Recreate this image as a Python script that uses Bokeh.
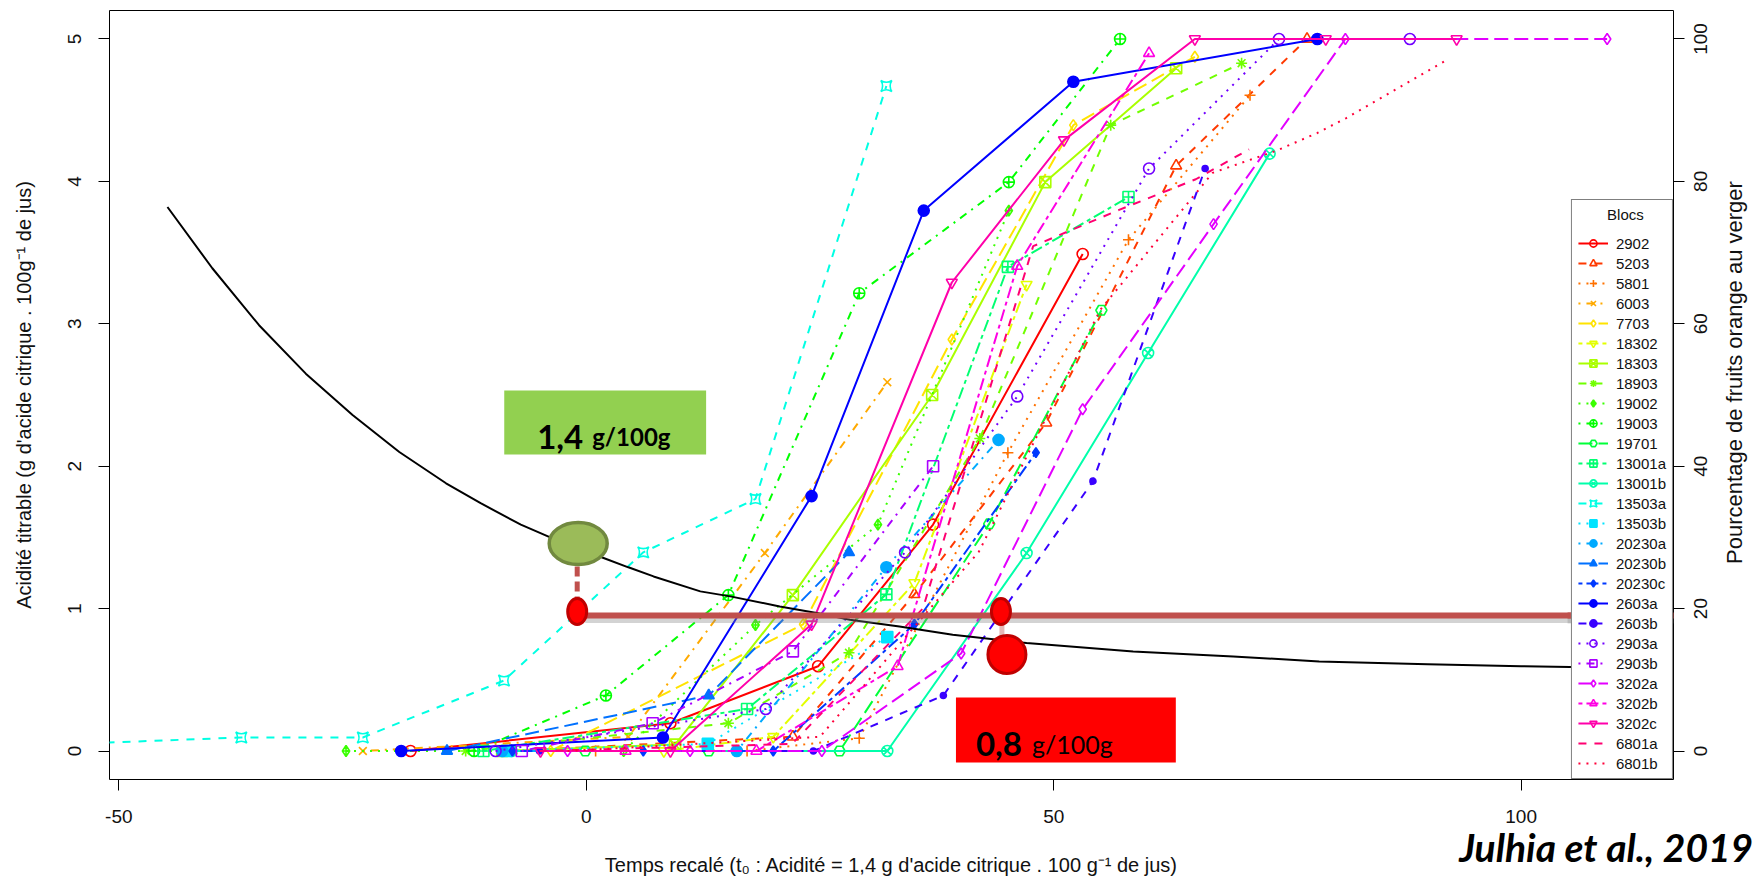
import math
from bokeh.plotting import figure
from bokeh.models import (Range1d, LinearAxis, FixedTicker, Legend, LegendItem,
                          Label, BoxAnnotation)
from bokeh.embed import file_html
from bokeh.resources import INLINE

# ------------------------------------------------------------------ data
blocs = ["2902", "5203", "5801", "6003", "7703", "18302", "18303", "18903",
         "19002", "19003", "19701", "13001a", "13001b", "13503a", "13503b",
         "20230a", "20230b", "20230c", "2603a", "2603b", "2903a", "2903b",
         "3202a", "3202b", "3202c", "6801a", "6801b"]

# recalibrated time (days) and % orange fruits, per block
x_2902 = [-18.8, 9.0, 24.8, 37.1, 53.1]
y_2902 = [0, 3.9, 11.9, 31.8, 69.8]
x_5203 = [-8.0, 22.1, 35.1, 49.2, 63.1, 77.1]
y_5203 = [0, 2.0, 22.0, 46.1, 82.2, 100]
x_5801 = [1.0, 17.2, 29.2, 45.1, 58.0, 71.0]
y_5801 = [0, 0, 1.8, 41.9, 71.8, 92.1]
x_6003 = [-23.9, 4.5, 19.1, 32.2]
y_6003 = [0, 2.0, 27.8, 51.8]
x_7703 = [-3.8, 23.2, 39.1, 52.1, 65.1]
y_7703 = [0, 17.8, 57.8, 87.9, 97.5]
x_18302 = [8.3, 20.0, 35.1, 47.1]
y_18302 = [0, 2.0, 23.6, 65.5]
x_18303 = [-9.0, 9.5, 22.1, 37.0, 49.1, 63.1]
y_18303 = [0, 0.9, 21.9, 50.0, 79.9, 95.9]
x_18903 = [-12.9, 15.2, 28.1, 42.1, 56.1, 70.1]
y_18903 = [0, 3.9, 13.8, 43.9, 87.9, 96.6]
x_19002 = [-25.7, 4.0, 18.1, 31.2, 45.2]
y_19002 = [0, 0, 17.7, 31.8, 75.9]
x_19003 = [-12.0, 2.1, 15.2, 29.2, 45.2, 57.1]
y_19003 = [0, 7.8, 21.9, 64.3, 79.9, 100]
x_19701 = [-0.1, 13.1, 27.1, 43.1, 55.1]
y_19701 = [0, 0, 0, 31.9, 61.9]
x_13001a = [-11.0, 17.2, 32.1, 45.1, 58.0]
y_13001a = [0, 5.9, 22.0, 68.0, 77.8]
x_13001b = [-8.0, 32.2, 47.1, 60.1, 73.1]
y_13001b = [0, 0, 27.8, 55.9, 83.9]
x_13503a = [-65.0, -36.9, -23.9, -8.8, 6.1, 18.1, 32.1]
y_13503a = [0.5, 1.9, 1.9, 9.9, 27.9, 35.4, 93.4]
x_13503b = [-8.5, 13.0, 32.2]
y_13503b = [0, 1.0, 16.0]
x_20230a = [-9.0, 16.1, 32.1, 44.1]
y_20230a = [0, 0, 25.8, 43.7]
x_20230b = [-14.9, 13.1, 28.1]
y_20230b = [0, 7.8, 27.9]
x_20230c = [-7.9, 6.1, 20.0, 35.1, 48.1]
y_20230c = [0, 0, 0, 17.8, 41.9]
x_2603a = [-19.8, 8.2, 24.1, 36.1, 52.1, 78.2]
y_2603a = [0, 1.9, 35.8, 75.9, 94.0, 100]
x_2603b = [-5.0, 24.3, 38.2, 54.2, 66.2]
y_2603b = [0, 0, 7.8, 37.9, 81.8]
x_2903a = [-9.7, 19.2, 34.1, 46.1, 60.2, 74.1, 88.1]
y_2903a = [0, 5.9, 27.9, 49.8, 81.8, 100, 100]
x_2903b = [-6.9, 7.1, 22.1, 37.1]
y_2903b = [0, 3.9, 14.0, 40.0]
x_3202a = [-2.0, 11.1, 25.2, 40.1, 53.1, 67.1, 81.2, 109.2]
y_3202a = [0, 0, 0, 13.7, 48.0, 74.0, 100, 100]
x_3202b = [4.2, 18.2, 33.3, 46.1, 60.2]
y_3202b = [0, 0, 11.9, 68.1, 98.0]
x_3202c = [-4.9, 9.0, 24.1, 39.1, 51.1, 65.1, 79.1, 93.1]
y_3202c = [0, 0, 17.8, 65.8, 85.8, 100, 100, 100]
x_6801a = [-5.0, 22.0, 36.0, 47.8, 57.0, 65.2, 70.9]
y_6801a = [0, 1.0, 20.0, 70.9, 76.0, 80.3, 84.5]
x_6801b = [-2.0, 25.0, 42.0, 55.0, 67.0, 73.8, 78.2, 81.3, 92.1]
y_6801b = [0, 2.0, 28.0, 62.0, 81.2, 84.3, 86.8, 88.9, 97.1]

# titratable acidity curve (g citric acid / 100 g juice)
acid_t = [-44.8, -40, -35, -30, -25, -20, -15, -11.3, -7, -3.85, 0, 1.85, 4.5,
          7.2, 12.2, 15.4, 20.7, 24.8, 28.2, 33.5, 39.2, 47.1, 58.5, 69.2,
          78.4, 90, 100, 110.1]
acid_v = [3.82, 3.39, 2.99, 2.65, 2.36, 2.10, 1.88, 1.74, 1.59, 1.50, 1.40,
          1.355, 1.29, 1.226, 1.121, 1.086, 1.015, 0.968, 0.922, 0.875, 0.816,
          0.758, 0.699, 0.664, 0.629, 0.61, 0.595, 0.585]

x_ticks = [-50, 0, 50, 100]
acid_ticks = [0, 1, 2, 3, 4, 5]
pct_ticks = [0, 20, 40, 60, 80, 100]

label_t0 = "1,4"
label_thr = "0,8"
label_unit = "g/100g"
x_title = "Temps recalé (t\u2080 : Acidité = 1,4 g d'acide citrique . 100 g\u207b\u00b9 de jus)"
y_title = "Acidité titrable (g d'acide citrique . 100g\u207b\u00b9 de jus)"
y2_title = "Pourcentage de fruits orange au verger"
citation = "Julhia et al., 2019"

xs_all = [x_2902, x_5203, x_5801, x_6003, x_7703, x_18302, x_18303, x_18903,
          x_19002, x_19003, x_19701, x_13001a, x_13001b, x_13503a, x_13503b,
          x_20230a, x_20230b, x_20230c, x_2603a, x_2603b, x_2903a, x_2903b,
          x_3202a, x_3202b, x_3202c, x_6801a, x_6801b]
ys_all = [y_2902, y_5203, y_5801, y_6003, y_7703, y_18302, y_18303, y_18903,
          y_19002, y_19003, y_19701, y_13001a, y_13001b, y_13503a, y_13503b,
          y_20230a, y_20230b, y_20230c, y_2603a, y_2603b, y_2903a, y_2903b,
          y_3202a, y_3202b, y_3202c, y_6801a, y_6801b]

# ------------------------------------------------------------------ styles
colors = ["#FF0000", "#FF3900", "#FF7100", "#FFAA00", "#FFE300", "#E3FF00",
          "#AAFF00", "#71FF00", "#39FF00", "#00FF00", "#00FF39", "#00FF71",
          "#00FFAA", "#00FFE3", "#00E3FF", "#00AAFF", "#0071FF", "#0039FF",
          "#0000FF", "#3900FF", "#7100FF", "#AA00FF", "#E300FF", "#FF00E3",
          "#FF00AA", "#FF0071", "#FF0039"]
dashes = ["solid", "8 8", "2 6", "2 6 8 6", "14 6", "4 4 12 4"]
markers = ["circle", "triangle", "cross", "x", "diamond", "inverted_triangle",
           "square_x", "asterisk", "diamond_cross", "circle_cross", "hex",
           "square_cross", "circle_x", "square_pin", "square", "circle",
           "triangle", "diamond", "circle", "circle", "circle", "square",
           "diamond", "triangle", "inverted_triangle", None, None]
filled = [False] * 14 + [True] * 6 + [False] * 7
msize = [11] * 27
msize[17] = 10
msize[19] = 6

# ------------------------------------------------------------------ layout
W, H = 1762, 878
FL, FR, FT, FB = 109, 1674, 10, 779      # frame edges (page pixels)
X0, X1 = -51.0, 116.3
Y0, Y1 = -0.2, 5.2
P0, P1 = Y0 * 20, Y1 * 20


def fx(px):
    return X0 + (px - FL) * (X1 - X0) / (FR - FL)


def fy(py):
    return Y1 - (py - FT) * (Y1 - Y0) / (FB - FT)


def fpct(py):
    return P1 - (py - FT) * (P1 - P0) / (FB - FT)


PCT_PER_PX = (P1 - P0) / (FB - FT)

p = figure(width=W, height=H, x_range=Range1d(X0, X1), y_range=Range1d(Y0, Y1),
           output_backend="svg", toolbar_location=None,
           min_border_left=FL, min_border_right=W - FR,
           min_border_top=FT, min_border_bottom=H - FB)
p.extra_y_ranges = {"pct": Range1d(P0, P1)}
p.xgrid.visible = False
p.ygrid.visible = False
p.outline_line_color = "black"
p.outline_line_width = 1
p.background_fill_color = "white"
p.border_fill_color = "white"

TICK_FONT = "Liberation Sans"
TXT = "#111111"


def style_axis(ax, tick_out=11):
    ax.axis_line_color = None
    ax.major_tick_line_color = "black" if tick_out else None
    ax.major_tick_out = tick_out
    ax.major_tick_in = 0
    ax.minor_tick_line_color = None
    ax.major_label_text_font = TICK_FONT
    ax.major_label_text_font_size = "19px"
    ax.major_label_text_color = TXT
    ax.axis_label_text_font = TICK_FONT
    ax.axis_label_text_font_size = "20px"
    ax.axis_label_text_font_style = "normal"
    ax.axis_label_text_color = TXT


# bottom axis: ticks, labels and title
xa = p.xaxis[0]
style_axis(xa)
xa.ticker = FixedTicker(ticks=x_ticks)
xa.major_label_overrides = {t: str(t) for t in x_ticks}
xa.major_label_standoff = 19
xa.axis_label = x_title
xa.axis_label_text_font_size = "20px"
xa.axis_label_standoff = 28

# second bottom axis carrying the citation
cite_x = round(fx(1607), 1)
cite_ax = LinearAxis(ticker=FixedTicker(ticks=[cite_x]),
                     major_label_overrides={cite_x: citation})
style_axis(cite_ax, tick_out=0)
cite_ax.major_label_text_font = "Lato"
cite_ax.major_label_text_font_style = "bold italic"
cite_ax.major_label_text_font_size = "39px"
cite_ax.major_label_text_color = "black"
cite_ax.major_label_standoff = -55
p.add_layout(cite_ax, "below")

# left axis
ya = p.yaxis[0]
style_axis(ya)
ya.ticker = FixedTicker(ticks=acid_ticks)
ya.major_label_orientation = "vertical"
ya.major_label_standoff = 17
ya.axis_label = y_title
ya.axis_label_standoff = 31

# right axis: ticks only
r_ticks = LinearAxis(y_range_name="pct", ticker=FixedTicker(ticks=pct_ticks),
                     major_label_overrides={t: "" for t in pct_ticks})
style_axis(r_ticks)
r_ticks.major_label_text_color = None
r_ticks.major_label_text_font_size = "1px"
r_ticks.major_label_standoff = 0
p.add_layout(r_ticks, "right")

# right axis: rotated labels (anchored at their start -> centred by shifting)
half = {t: len(str(t)) * 0.556 * 19 / 2 * PCT_PER_PX for t in pct_ticks}
lab_pos = {t: round(t - half[t], 2) for t in pct_ticks}
r_labels = LinearAxis(y_range_name="pct",
                      ticker=FixedTicker(ticks=[lab_pos[t] for t in pct_ticks]),
                      major_label_overrides={lab_pos[t]: str(t) for t in pct_ticks})
style_axis(r_labels, tick_out=0)
r_labels.major_label_orientation = math.pi / 2
r_labels.major_label_standoff = 16
p.add_layout(r_labels, "right")

# right axis: title as a rotated label
TITLE2_SIZE = 22
title_len_px = 17.4 * TITLE2_SIZE
title_pos = round(fpct(372) - title_len_px / 2 * PCT_PER_PX, 2)
r_title = LinearAxis(y_range_name="pct", ticker=FixedTicker(ticks=[title_pos]),
                     major_label_overrides={title_pos: y2_title})
style_axis(r_title, tick_out=0)
r_title.major_label_orientation = math.pi / 2
r_title.major_label_text_font_size = f"{TITLE2_SIZE}px"
r_title.major_label_standoff = 18
p.add_layout(r_title, "right")

# ------------------------------------------------------------------ series
items = []
for i, name in enumerate(blocs):
    rs = []
    lr = p.line(xs_all[i], ys_all[i], y_range_name="pct", line_color=colors[i],
                line_width=2, line_dash=dashes[i % 6])
    rs.append(lr)
    if markers[i] is not None:
        sr = p.scatter(xs_all[i], ys_all[i], y_range_name="pct",
                       marker=markers[i], size=msize[i], line_color=colors[i],
                       line_width=1.6,
                       fill_color=colors[i] if filled[i] else None)
        rs.append(sr)
    items.append(LegendItem(label=name, renderers=rs))

p.line(acid_t, acid_v, line_color="black", line_width=2)

# ------------------------------------------------------------------ legend
legend = Legend(items=items, location="bottom_right", margin=0, padding=6,
                title="\u00a0" * 7 + "Blocs", title_text_font=TICK_FONT,
                title_text_font_size="15px", title_text_font_style="normal",
                title_text_color=TXT, title_standoff=11,
                label_text_font=TICK_FONT, label_text_font_size="15px",
                label_text_color=TXT,
                glyph_width=30, glyph_height=18, label_height=18, spacing=2,
                label_standoff=8, border_line_color="black",
                border_line_width=1, background_fill_color="white",
                background_fill_alpha=1.0)
p.add_layout(legend)

# ------------------------------------------------------------------ annotations
LINE_Y = fy(615)
p.segment(x0=[fx(585)], y0=[fy(620)], x1=[fx(1572)], y1=[fy(620)],
          line_color="#808080", line_alpha=0.35, line_width=5)
p.segment(x0=[fx(585)], y0=[LINE_Y], x1=[fx(1572)], y1=[LINE_Y],
          line_color="#C0504D", line_width=6)
p.segment(x0=[fx(577)], y0=[fy(566)], x1=[fx(577)], y1=[fy(600)],
          line_color="#C0504D", line_width=5, line_dash="10 5")
p.segment(x0=[fx(1002)], y0=[fy(622)], x1=[fx(1002)], y1=[fy(637)],
          line_color="#E6B8B7", line_width=5)
p.ellipse(x=[fx(578)], y=[fy(543)], width=58, height=42, width_units="screen",
          height_units="screen", fill_color="#9BBB59", line_color="#71893F",
          line_width=3.5)
p.ellipse(x=[fx(577), fx(1001)], y=[fy(611), fy(611)], width=19, height=26,
          width_units="screen", height_units="screen", fill_color="#FF0000",
          line_color="#C00000", line_width=3)
p.ellipse(x=[fx(1007)], y=[fy(654)], width=38, height=38, width_units="screen",
          height_units="screen", fill_color="#FF0000", line_color="#C00000",
          line_width=3)
p.quad(left=[fx(504)], right=[fx(706)], top=[fy(390)], bottom=[fy(454)],
       fill_color="#92D050", line_color=None)
p.quad(left=[fx(956)], right=[fx(1176)], top=[fy(697)], bottom=[fy(762)],
       fill_color="#FF0000", line_color=None)

ANN_FONT = "Lato"
p.add_layout(Label(x=fx(537), y=fy(436), text=label_t0, text_font=ANN_FONT,
                   text_font_style="bold", text_font_size="33px",
                   text_baseline="alphabetic", text_color="black"))
p.add_layout(Label(x=fx(592), y=fy(436), text=label_unit, text_font=ANN_FONT,
                   text_font_style="bold", text_font_size="24px",
                   text_baseline="alphabetic", text_color="black"))
p.add_layout(Label(x=fx(976), y=fy(743), text=label_thr, text_font=ANN_FONT,
                   text_font_style="bold", text_font_size="33px",
                   text_baseline="alphabetic", text_color="black"))
p.add_layout(Label(x=fx(1032), y=fy(743), text=label_unit, text_font=ANN_FONT,
                   text_font_style="normal", text_font_size="25px",
                   text_baseline="alphabetic", text_color="black"))

# line continuation over legend and right margin
p.add_layout(BoxAnnotation(left=fx(1568), right=fx(1762), top=fy(617),
                           bottom=fy(623), fill_color="#808080",
                           fill_alpha=0.3, line_color=None, level="overlay"))
p.add_layout(BoxAnnotation(left=fx(1568), right=fx(1762), top=fy(612),
                           bottom=fy(618), fill_color="#C0504D",
                           fill_alpha=1.0, line_color=None, level="overlay"))

open("out.html", "w").write(file_html(p, INLINE))
